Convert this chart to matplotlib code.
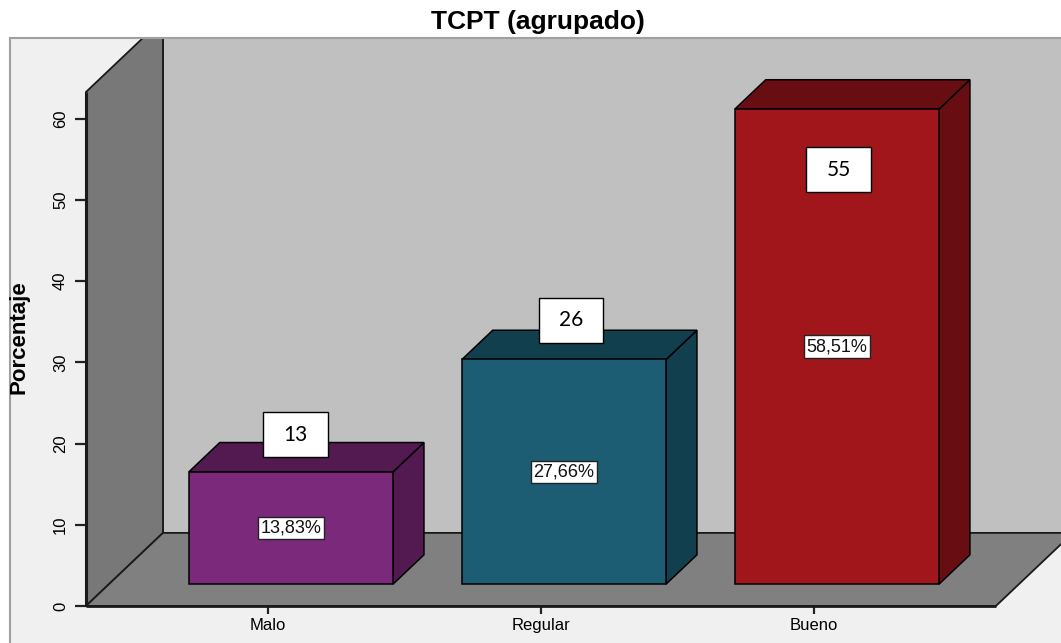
import matplotlib
matplotlib.use("Agg")
import matplotlib.pyplot as plt
from matplotlib.patches import Polygon, Rectangle

# ---------------- data ----------------
categories = ["Malo", "Regular", "Bueno"]
percentages = [13.83, 27.66, 58.51]
pct_labels = ["13,83%", "27,66%", "58,51%"]
counts = [13, 26, 55]
y_ticks = [0, 10, 20, 30, 40, 50, 60]
front_colors = ["#7b297b", "#1c5d74", "#a0161b"]
side_colors = ["#521a50", "#123f4d", "#680e12"]

# layout of the manually placed count boxes (data coords)
count_box_x = [0.10, 1.11, 2.09]
count_box_y = [21.1, 35.2, 53.7]

# ---------------- geometry ----------------
XLIM = (-0.945, 2.905)
YLIM = (-4.56, 69.95)
X0, X1 = -2 / 3, 2 + 2 / 3        # front floor extent
YTOP = 63.3                       # wall height
DX, DY = 0.282, 9.0               # depth offset (data units)
HW = 0.374                        # bar half width
F0, F1 = 0.3, 0.7                 # bar depth fraction


def P(x, y, d):
    return (x + d * DX, y + d * DY)


fig = plt.figure(figsize=(10.61, 6.43), dpi=100)
fig.patch.set_facecolor("white")
ax = fig.add_axes([10 / 1061, 0, 1051 / 1061, 605 / 643])
ax.set_facecolor("#f0f0f0")
ax.set_xlim(*XLIM)
ax.set_ylim(*YLIM)
ax.set_xticks([])
ax.set_yticks([])
for s in ["right", "bottom"]:
    ax.spines[s].set_visible(False)
for s in ["left", "top"]:
    ax.spines[s].set_color("#a0a0a0")
    ax.spines[s].set_linewidth(1.5)

edge = "#1a1a1a"
# back wall
ax.add_patch(Polygon([P(X0, 0, 1), P(X1, 0, 1), P(X1, YTOP, 1), P(X0, YTOP, 1)],
                     closed=True, fc="#c0c0c0", ec=edge, lw=1.3, zorder=1))
# left wall
ax.add_patch(Polygon([P(X0, 0, 0), P(X0, 0, 1), P(X0, YTOP, 1), P(X0, YTOP, 0)],
                     closed=True, fc="#787878", ec=edge, lw=1.3, zorder=2))
# floor
ax.add_patch(Polygon([P(X0, 0, 0), P(X1, 0, 0), P(X1, 0, 1), P(X0, 0, 1)],
                     closed=True, fc="#808080", ec=edge, lw=1.3, zorder=2))
# emphasised front axis lines
ax.plot([X0, X0], [0, YTOP], color=edge, lw=2.2, zorder=3, solid_capstyle="butt")
ax.plot([X0, X1], [0, 0], color=edge, lw=2.0, zorder=3, solid_capstyle="butt")

# bars
for i, (v, fc, sc) in enumerate(zip(percentages, front_colors, side_colors)):
    x = i
    side = [P(x + HW, 0, F0), P(x + HW, 0, F1), P(x + HW, v, F1), P(x + HW, v, F0)]
    top = [P(x - HW, v, F0), P(x + HW, v, F0), P(x + HW, v, F1), P(x - HW, v, F1)]
    front = [P(x - HW, 0, F0), P(x + HW, 0, F0), P(x + HW, v, F0), P(x - HW, v, F0)]
    ax.add_patch(Polygon(side, closed=True, fc=sc, ec="black", lw=1.1, zorder=4))
    ax.add_patch(Polygon(top, closed=True, fc=sc, ec="black", lw=1.1, zorder=4))
    ax.add_patch(Polygon(front, closed=True, fc=fc, ec="black", lw=1.1, zorder=5))
    cx, cy = P(x, v / 2, F0)
    ax.text(cx, cy, pct_labels[i], ha="center", va="center", fontsize=13,
            family="Liberation Sans", color="#111111", zorder=7,
            bbox=dict(boxstyle="square,pad=0.15", fc="white", ec="#222222", lw=1.0))

# count boxes
bw, bh = 0.238, 5.54
for i, c in enumerate(counts):
    bx, by = count_box_x[i], count_box_y[i]
    ax.add_patch(Rectangle((bx - bw / 2, by - bh / 2), bw, bh, fc="white",
                           ec="black", lw=1.0, zorder=8))
    ax.text(bx, by, str(c), ha="center", va="center", fontsize=15,
            family="Lato", color="black", zorder=9)

# y ticks on the front wall edge
locy = (X0 - XLIM[0]) / (XLIM[1] - XLIM[0])
secy = ax.secondary_yaxis(locy)
secy.set_yticks(y_ticks)
secy.tick_params(axis="y", length=8, width=1.6, pad=5, labelsize=12,
                 labelrotation=90, color="#222222")
for lab in secy.get_yticklabels():
    lab.set_family(["Liberation Sans Narrow", "Liberation Sans"])
    lab.set_va("center")
for s in secy.spines.values():
    s.set_visible(False)

# x ticks on the floor front
locx = (0 - YLIM[0]) / (YLIM[1] - YLIM[0])
secx = ax.secondary_xaxis(locx)
secx.set_xticks(range(len(categories)), categories)
secx.tick_params(axis="x", length=6, width=1.6, pad=3, labelsize=12,
                 color="#222222")
for lab in secx.get_xticklabels():
    lab.set_family("Liberation Sans")
for s in secx.spines.values():
    s.set_visible(False)

# axis label and title
ax.text(9 / 1051, 0.505, "Porcentaje", rotation=90, transform=ax.transAxes,
        ha="center", va="center", fontsize=16, fontweight="bold",
        family=["Liberation Sans Narrow", "Liberation Sans"])
fig.text(538 / 1061, 1 - 22 / 643, "TCPT (agrupado)", ha="center", va="center",
         fontsize=19, fontweight="bold", family="Liberation Sans")

fig.savefig("out.png", dpi=100)
